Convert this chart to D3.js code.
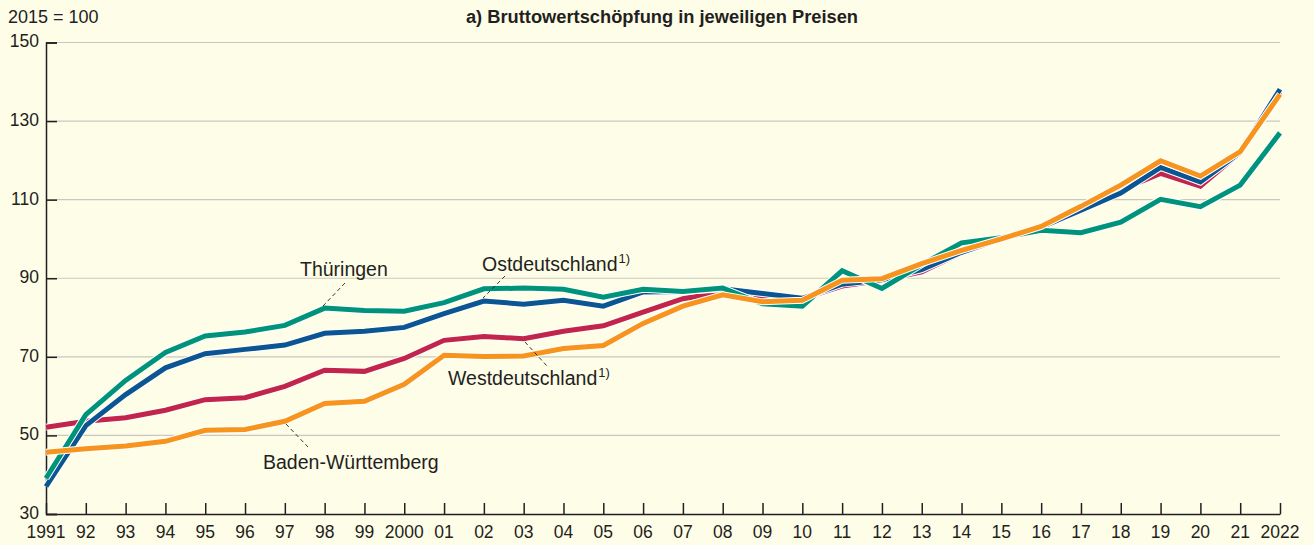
<!DOCTYPE html>
<html>
<head>
<meta charset="utf-8">
<script src="https://cdn.jsdelivr.net/npm/d3@7"></script>
<style>
  body { margin: 0; background: #fefde8; }
  svg { display: block; }
  text { font-family: "Liberation Sans", Arial, sans-serif; fill: #231f20; }
</style>
</head>
<body>
<script>
// years on the x axis
const years = d3.range(1991, 2023)

// index values, 2015 = 100
const thueringen = [39.1, 55.3, 64.0, 71.1, 75.3, 76.3, 78.0, 82.4, 81.8, 81.6, 83.8, 87.3, 87.5, 87.2, 85.2, 87.2, 86.6, 87.5, 83.5, 82.9, 91.9, 87.4, 93.5, 99.0, 100.3, 102.2, 101.6, 104.3, 110.1, 108.2, 113.7, 127.0]
const ostdeutschland = [37.0, 52.5, 60.4, 67.2, 70.8, 71.9, 73.0, 76.0, 76.5, 77.5, 81.0, 84.2, 83.4, 84.4, 82.9, 86.5, 86.6, 87.3, 86.1, 84.9, 88.5, 89.6, 92.2, 96.6, 100, 103.0, 107.3, 111.7, 118.2, 114.5, 122.0, 138.1]
const westdeutschland = [52.1, 53.6, 54.5, 56.4, 59.1, 59.6, 62.5, 66.6, 66.3, 69.6, 74.2, 75.2, 74.6, 76.5, 77.9, 81.4, 84.8, 86.4, 85.2, 84.8, 88.0, 89.5, 91.6, 96.5, 100, 103.0, 108.0, 112.5, 116.7, 113.4, 122.0, 137.5]
const badenWuerttemberg = [45.7, 46.6, 47.3, 48.5, 51.3, 51.5, 53.6, 58.1, 58.7, 63.0, 70.4, 70.1, 70.2, 72.1, 72.9, 78.5, 82.9, 85.8, 84.0, 84.4, 89.5, 89.9, 93.7, 97.1, 100, 103.2, 108.3, 113.7, 119.9, 116.0, 122.2, 136.8]

const yTicks = [30, 50, 70, 90, 110, 130, 150]
const xTickLabels = ['1991', '92', '93', '94', '95', '96', '97', '98', '99', '2000', '01', '02', '03', '04', '05', '06', '07', '08', '09', '10', '11', '12', '13', '14', '15', '16', '17', '18', '19', '20', '21', '2022']

// draw order: later series on top
const series = [
    { name: 'West', values: westdeutschland, color: '#c1254b' },
    { name: 'Ost', values: ostdeutschland, color: '#0a5592' },
    { name: 'Thüringen', values: thueringen, color: '#00937b' },
    { name: 'BW', values: badenWuerttemberg, color: '#f7941e' }
]

const w = 1314
const h = 545

const xScale = d3.scaleLinear().domain([1991, 2022]).range([46, 1280])
const yScale = d3.scaleLinear().domain([30, 150]).range([514, 42.5])

const svg = d3.select('body').append('svg')
    .attr('width', w)
    .attr('height', h)

svg.append('rect')
    .attr('width', w).attr('height', h)
    .attr('fill', '#fefde8')

// gridlines
svg.append('g')
    .selectAll('line')
    .data(yTicks.slice(1))
    .enter()
    .append('line')
    .attr('x1', xScale(1991))
    .attr('x2', xScale(2022))
    .attr('y1', d => yScale(d))
    .attr('y2', d => yScale(d))
    .attr('stroke', '#c9c8c0')
    .attr('stroke-width', 1.2)

// y axis
const yAxis = d3.axisRight(yScale).tickValues(yTicks).tickSize(11).tickFormat('')
const gy = svg.append('g')
    .attr('transform', `translate(${xScale(1991)},0)`)
    .call(yAxis)
gy.select('.domain').attr('stroke', '#231f20').attr('stroke-width', 1.5)
gy.selectAll('.tick line').attr('stroke', '#231f20').attr('stroke-width', 1.5)

svg.append('g')
    .selectAll('text')
    .data(yTicks)
    .enter()
    .append('text')
    .attr('x', 39)
    .attr('y', d => yScale(d))
    .attr('dy', '0.28em')
    .attr('text-anchor', 'end')
    .style('font-size', '17.5px')
    .text(d => d)

// x axis
const xAxis = d3.axisTop(xScale).tickValues(years).tickSize(11).tickSizeOuter(0).tickFormat('')
const gx = svg.append('g')
    .attr('transform', `translate(0,${yScale(30)})`)
    .call(xAxis)
gx.select('.domain').attr('stroke', '#231f20').attr('stroke-width', 1.5)
gx.selectAll('.tick line').attr('stroke', '#231f20').attr('stroke-width', 1.5)

svg.append('g')
    .selectAll('text')
    .data(years)
    .enter()
    .append('text')
    .attr('x', d => xScale(d))
    .attr('y', 538)
    .attr('text-anchor', 'middle')
    .style('font-size', '17.5px')
    .text((d, i) => xTickLabels[i])

// lines with white halo
const line = d3.line()
    .x((d, i) => xScale(years[i]))
    .y(d => yScale(d))

series.forEach(s => {
    svg.append('path')
        .datum(s.values)
        .attr('d', line)
        .attr('fill', 'none')
        .attr('stroke', '#ffffff')
        .attr('stroke-width', 7)
        .attr('stroke-linejoin', 'miter')
    svg.append('path')
        .datum(s.values)
        .attr('d', line)
        .attr('fill', 'none')
        .attr('stroke', s.color)
        .attr('stroke-width', 5)
        .attr('stroke-linejoin', 'miter')
})

// leader lines
const leaders = [
    [345, 283, 323, 306],
    [505, 276, 483, 298],
    [525, 342, 547, 366],
    [286, 424, 308, 447]
]
svg.append('g')
    .selectAll('line')
    .data(leaders)
    .enter()
    .append('line')
    .attr('x1', d => d[0]).attr('y1', d => d[1])
    .attr('x2', d => d[2]).attr('y2', d => d[3])
    .attr('stroke', '#231f20')
    .attr('stroke-width', 0.9)
    .attr('stroke-dasharray', '4,3')

// series labels
function label(x, y, txt, sup) {
    const t = svg.append('text')
        .attr('x', x).attr('y', y)
        .style('font-size', '19.5px')
        .text(txt)
    if (sup) {
        t.append('tspan')
            .attr('dy', -8)
            .attr('dx', 1)
            .style('font-size', '13px')
            .text(sup)
    }
}
label(300, 276, 'Thüringen')
label(482, 271, 'Ostdeutschland', '1)')
label(448, 385, 'Westdeutschland', '1)')
label(263, 469, 'Baden-Württemberg')

// header texts
svg.append('text')
    .attr('x', 8).attr('y', 23)
    .style('font-size', '18px')
    .text('2015 = 100')

svg.append('text')
    .attr('x', 662).attr('y', 23)
    .attr('text-anchor', 'middle')
    .style('font-size', '18.3px')
    .style('font-weight', 'bold')
    .text('a) Bruttowertschöpfung in jeweiligen Preisen')
</script>
</body>
</html>
